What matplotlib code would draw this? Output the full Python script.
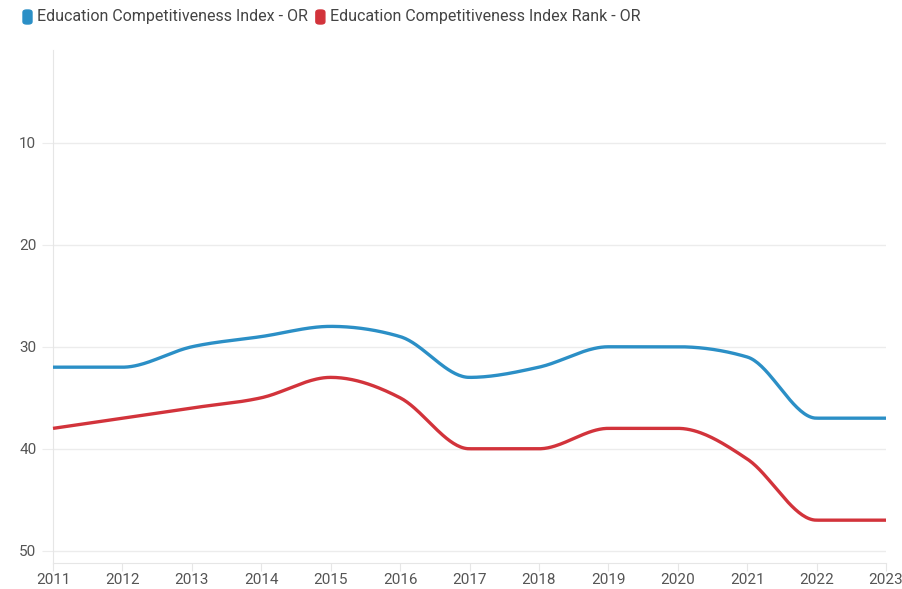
import numpy as np
import matplotlib.pyplot as plt
from matplotlib.patches import FancyBboxPatch

plt.rcParams['font.family'] = ['Roboto', 'DejaVu Sans']

years = [2011, 2012, 2013, 2014, 2015, 2016, 2017, 2018, 2019, 2020, 2021, 2022, 2023]
index_vals = [32, 32, 30, 29, 28, 29, 33, 32, 30, 30, 31, 37, 37]
rank_vals = [38, 37, 36, 35, 33, 35, 40, 40, 38, 38, 41, 47, 47]
labels = ['Education Competitiveness Index - OR', 'Education Competitiveness Index Rank - OR']
colors = ['#2b8fc6', '#d2333b']


def monotone(x, y, n=40):
    # d3 curveMonotoneX style smoothing
    x = np.asarray(x, float)
    y = np.asarray(y, float)
    h = np.diff(x)
    s = np.diff(y) / h
    m = np.zeros(len(x))
    for i in range(1, len(x) - 1):
        p = (s[i - 1] * h[i] + s[i] * h[i - 1]) / (h[i - 1] + h[i])
        m[i] = (np.sign(s[i - 1]) + np.sign(s[i])) * min(abs(s[i - 1]), abs(s[i]), 0.5 * abs(p))
    m[0] = (3 * s[0] - m[1]) / 2
    m[-1] = (3 * s[-1] - m[-2]) / 2
    xs, ys = [], []
    for i in range(len(x) - 1):
        t = np.linspace(0, 1, n)
        x0, x1 = x[i], x[i + 1]
        dx = (x1 - x0) / 3
        p0 = (x0, y[i])
        p1 = (x0 + dx, y[i] + m[i] * dx)
        p2 = (x1 - dx, y[i + 1] - m[i + 1] * dx)
        p3 = (x1, y[i + 1])
        bx = (1 - t) ** 3 * p0[0] + 3 * (1 - t) ** 2 * t * p1[0] + 3 * (1 - t) * t ** 2 * p2[0] + t ** 3 * p3[0]
        by = (1 - t) ** 3 * p0[1] + 3 * (1 - t) ** 2 * t * p1[1] + 3 * (1 - t) * t ** 2 * p2[1] + t ** 3 * p3[1]
        xs.extend(bx)
        ys.extend(by)
    return xs, ys


fig = plt.figure(figsize=(9.02, 5.89), dpi=100)
ax = fig.add_axes([53 / 902, 26 / 589, 833 / 902, 513 / 589])

for vals, c in zip([index_vals, rank_vals], colors):
    sx, sy = monotone(years, vals)
    ax.plot(sx, sy, color=c, lw=2.4, solid_capstyle='butt', clip_on=False, zorder=3)

ax.set_xlim(2011, 2023)
ax.set_ylim(51.2, 0.9)
ax.set_xticks(years)
ax.set_yticks([10, 20, 30, 40, 50])
ax.grid(axis='y', color='#ececec', lw=1)
for sp in ['top', 'right']:
    ax.spines[sp].set_visible(False)
ax.spines['left'].set_color('#e6e6e6')
ax.spines['bottom'].set_color('#e6e6e6')
ax.tick_params(axis='y', length=8, color='#ececec', labelsize=11, labelcolor='#555555', pad=4)
ax.tick_params(axis='x', length=6, color='#e6e6e6', labelsize=11, labelcolor='#555555', pad=1)

# legend
lx = 23
for lab, c in zip(labels, colors):
    box = FancyBboxPatch((lx / 902, 1 - 24 / 589), 9 / 902, 14 / 589,
                         boxstyle='round,pad=0,rounding_size=0.004',
                         transform=fig.transFigure, color=c, figure=fig)
    fig.patches.append(box)
    t = fig.text((lx + 14) / 902, 1 - 17 / 589, lab, fontsize=11.5, color='#444444',
                 va='center', ha='left')
    fig.canvas.draw()
    bb = t.get_window_extent()
    lx = bb.x1 + 8

fig.savefig('out.png', dpi=100, facecolor='white')
